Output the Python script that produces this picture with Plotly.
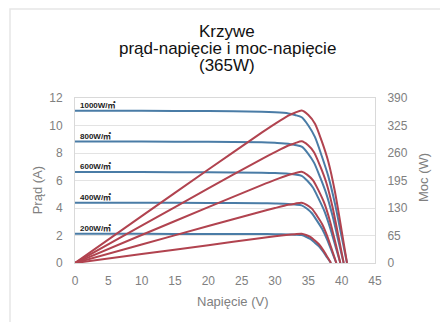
import plotly.graph_objects as go

# Irradiance labels
labels = ["1000W/㎡", "800W/㎡", "600W/㎡", "400W/㎡", "200W/㎡"]

# Voltage samples (V) for each curve
v1000 = [0, 10, 20, 28, 30, 32, 33, 34, 35, 36, 37, 38, 39, 40, 40.8]
v800 = [0, 10, 20, 28, 30, 32, 33, 34, 34.93, 35.85, 36.78, 37.70, 38.63, 39.56, 40.3]
v600 = [0, 10, 20, 28, 30, 32, 33, 34, 34.85, 35.71, 36.56, 37.41, 38.26, 39.12, 39.8]
v400 = [0, 10, 20, 28, 30, 32, 33, 34, 34.76, 35.53, 36.29, 37.06, 37.82, 38.59, 39.2]
v200 = [0, 10, 20, 28, 30, 32, 33, 34, 34.65, 35.29, 35.94, 36.59, 37.23, 37.88, 38.4]

# Current (A)
i1000 = [11.08, 11.07, 11.05, 11.0, 10.96, 10.88, 10.76, 10.6, 10.0, 9.15, 7.8, 6.3, 4.3, 1.9, 0]
i800 = [8.84, 8.83, 8.81, 8.78, 8.74, 8.68, 8.58, 8.46, 7.98, 7.30, 6.22, 5.03, 3.43, 1.51, 0]
i600 = [6.62, 6.61, 6.60, 6.57, 6.55, 6.50, 6.43, 6.34, 5.98, 5.47, 4.66, 3.77, 2.57, 1.13, 0]
i400 = [4.38, 4.38, 4.37, 4.35, 4.33, 4.30, 4.25, 4.19, 3.96, 3.62, 3.08, 2.49, 1.70, 0.75, 0]
i200 = [2.12, 2.12, 2.11, 2.11, 2.10, 2.08, 2.06, 2.03, 1.91, 1.75, 1.49, 1.21, 0.82, 0.36, 0]

# Power (W)
p1000 = [0, 110.7, 221.0, 308.0, 328.8, 348.2, 355.1, 360.4, 350.0, 329.4, 288.6, 239.4, 167.7, 76.0, 0]
p800 = [0, 88.3, 176.2, 245.8, 262.2, 277.8, 283.1, 287.6, 278.7, 261.7, 228.8, 189.6, 132.5, 59.7, 0]
p600 = [0, 66.1, 132.0, 184.0, 196.5, 208.0, 212.2, 215.6, 208.4, 195.3, 170.4, 141.0, 98.3, 44.2, 0]
p400 = [0, 43.8, 87.4, 121.8, 129.9, 137.6, 140.3, 142.5, 137.6, 128.6, 111.8, 92.3, 64.3, 28.9, 0]
p200 = [0, 21.2, 42.2, 59.1, 63.0, 66.6, 68.0, 69.0, 66.2, 61.8, 53.6, 44.3, 30.5, 13.6, 0]

isc = [11.08, 8.84, 6.62, 4.38, 2.12]

x_ticks = [0, 5, 10, 15, 20, 25, 30, 35, 40, 45]
y_ticks = [0, 2, 4, 6, 8, 10, 12]
y2_ticks = [0, 65, 130, 195, 260, 325, 390]

title_lines = ["Krzywe", "prąd-napięcie i moc-napięcie", "(365W)"]

volts = [v1000, v800, v600, v400, v200]
currents = [i1000, i800, i600, i400, i200]
powers = [p1000, p800, p600, p400, p200]

BLUE = "#4a7ca6"
RED = "#b1434f"
GRAY = "#808080"
FONT = "Liberation Sans, Arial, sans-serif"

fig = go.Figure()
for v, i in zip(volts, currents):
    fig.add_trace(go.Scatter(x=v, y=i, mode="lines", yaxis="y",
                             line=dict(color=BLUE, width=2, shape="spline", smoothing=0.7),
                             hoverinfo="skip", showlegend=False))
for v, p in zip(volts, powers):
    fig.add_trace(go.Scatter(x=v, y=p, mode="lines", yaxis="y2",
                             line=dict(color=RED, width=2, shape="spline", smoothing=0.7),
                             hoverinfo="skip", showlegend=False))

for lab, y in zip(labels, isc):
    fig.add_annotation(x=0.45, y=y, xref="x", yref="y", text="<b>" + lab + "</b>",
                       showarrow=False, xanchor="left", yanchor="middle", yshift=5,
                       font=dict(size=8, color="#222222",
                                 family="Liberation Sans, Noto Sans CJK SC, sans-serif"))

# title lines (tight line spacing as in the reference)
for txt, yp in zip(title_lines, [1.405, 1.302, 1.198]):
    fig.add_annotation(x=0.508, y=yp, xref="paper", yref="paper", text=txt,
                       showarrow=False, xanchor="center", yanchor="middle",
                       font=dict(size=17, color="#111111", family=FONT))

# axis titles
fig.add_annotation(x=-0.127, y=0.44, xref="paper", yref="paper", text="Prąd (A)",
                   textangle=-90, showarrow=False, xanchor="center", yanchor="middle",
                   font=dict(size=13, color=GRAY, family=FONT))
fig.add_annotation(x=1.16, y=0.515, xref="paper", yref="paper", text="Moc (W)",
                   textangle=-90, showarrow=False, xanchor="center", yanchor="middle",
                   font=dict(size=13, color=GRAY, family=FONT))
fig.add_annotation(x=0.527, y=-0.236, xref="paper", yref="paper", text="Napięcie (V)",
                   showarrow=False, xanchor="center", yanchor="middle",
                   font=dict(size=13, color=GRAY, family=FONT))

# figure is 440x314 so that with the page's 8px body margin it fills the 448x322 window
fig.update_layout(
    width=440, height=314,
    margin=dict(l=67, r=73, t=90, b=59),
    paper_bgcolor="white", plot_bgcolor="white",
    font=dict(family=FONT, color=GRAY, size=12),
    xaxis=dict(range=[0, 45], tickvals=x_ticks, showgrid=False, zeroline=False,
               showline=True, linecolor="#d9d9d9", mirror=True, automargin=False,
               ticks="outside", ticklen=7, tickcolor="rgba(0,0,0,0)",
               tickfont=dict(size=12, color=GRAY)),
    yaxis=dict(range=[0, 12], tickvals=y_ticks, showgrid=True, gridcolor="#e3e3e3",
               zeroline=False, showline=True, linecolor="#d9d9d9", mirror=True,
               automargin=False, ticks="outside", ticklen=9, tickcolor="rgba(0,0,0,0)",
               tickfont=dict(size=12, color=GRAY)),
    yaxis2=dict(range=[0, 390], tickvals=y2_ticks, overlaying="y", side="right",
                showgrid=False, zeroline=False, showline=False, automargin=False,
                ticks="outside", ticklen=9, tickcolor="rgba(0,0,0,0)",
                tickfont=dict(size=12, color=GRAY)),
)

fig.add_shape(type="rect", xref="paper", yref="paper",
              x0=-0.2167, x1=1.237, y0=-0.4, y1=1.54,
              line=dict(color="#e6e6e6", width=1.5), fillcolor="rgba(0,0,0,0)", layer="below")

fig.write_html("out.html")
